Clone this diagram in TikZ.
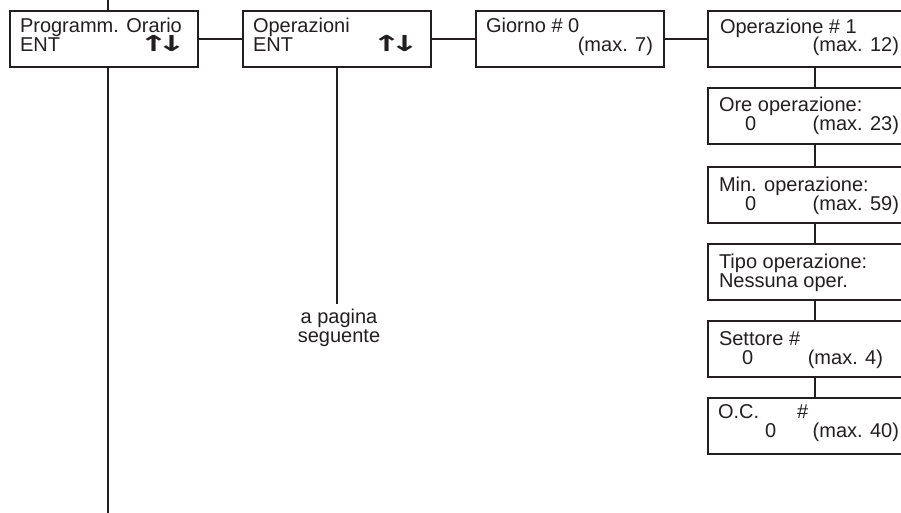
\documentclass[tikz,border=0pt]{standalone}
\usepackage{graphicx}
\usepackage{fontspec}
\setmainfont{Liberation Sans}
\newfontfamily\arrfont{DejaVu Sans Bold}
\definecolor{ink}{HTML}{231F20}
\newcommand{\uparr}{\scalebox{1.6}[1]{↑}}
\newcommand{\dnarr}{\scalebox{1.6}[1]{↓}}
\begin{document}
\begin{tikzpicture}[x=1pt,y=-1pt,
  every node/.style={inner sep=0pt, outer sep=0pt},
  box/.style={draw=ink, line width=2pt, minimum height=56pt, anchor=north west},
  lbox/.style={box, minimum width=188pt},
  rbox/.style={box, minimum width=200pt},
  txt/.style={text=ink, font=\fontsize{20}{18}\selectfont},
  arr/.style={text=ink, font=\arrfont\fontsize{22}{18}\selectfont, anchor=base},
  conn/.style={draw=ink, line width=2pt}]
\clip (0,0) rectangle (901,513);
\fill[white] (0,0) rectangle (901,513);
% boxes
\node[lbox] (b1) at (10,11) {};
\node[lbox] (b2) at (243,11) {};
\node[lbox] (b3) at (476,11) {};
\node[rbox] (b4) at (708,11) {};
\node[rbox] (b5) at (708,88) {};
\node[rbox] (b6) at (708,167) {};
\node[rbox] (b7) at (708,244) {};
\node[rbox] (b8) at (708,321) {};
\node[rbox] (b9) at (708,398) {};
% texts
\node[txt, anchor=base west] (t1a) at (20,33) {Programm. Orario};
\node[txt, anchor=base west] (t1b) at (20,52) {ENT};
\node[arr] (t1c) at (153.5,52) {\uparr};
\node[arr] (t1d) at (171.5,52) {\dnarr};
\node[txt, anchor=base west] (t2a) at (253,33) {Operazioni};
\node[txt, anchor=base west] (t2b) at (253,52) {ENT};
\node[arr] (t2c) at (386.5,52) {\uparr};
\node[arr] (t2d) at (404.5,52) {\dnarr};
\node[txt, anchor=base west] (t3a) at (486,33) {Giorno \# 0};
\node[txt, anchor=base east] (t3b) at (653,52) {(max. 7)};
\node[txt, anchor=base west] (t4a) at (720,34) {Operazione \# 1};
\node[txt, anchor=base east] (t4b) at (899,52) {(max. 12)};
\node[txt, anchor=base west] (t5a) at (719,112) {Ore operazione:};
\node[txt, anchor=base west] (t5b) at (745,131) {0};
\node[txt, anchor=base east] (t5c) at (899,131) {(max. 23)};
\node[txt, anchor=base west] (t6a) at (719,191) {Min. operazione:};
\node[txt, anchor=base west] (t6b) at (745,210) {0};
\node[txt, anchor=base east] (t6c) at (899,210) {(max. 59)};
\node[txt, anchor=base west] (t7a) at (719,268) {Tipo operazione:};
\node[txt, anchor=base west] (t7b) at (719,287) {Nessuna oper.};
\node[txt, anchor=base west] (t8a) at (719,345) {Settore \#};
\node[txt, anchor=base west] (t8b) at (742,364) {0};
\node[txt, anchor=base east] (t8c) at (883,364) {(max. 4)};
\node[txt, anchor=base west] (t9a) at (718,418) {O.C.};
\node[txt, anchor=base west] (t9b) at (797,418) {\#};
\node[txt, anchor=base west] (t9c) at (765,437) {0};
\node[txt, anchor=base east] (t9d) at (899,437) {(max. 40)};
\node[txt, align=center, anchor=base, font=\fontsize{20}{19.5}\selectfont] (ap) at (339,342.5) {a pagina\\seguente};
% connector helpers
\coordinate (vtop) at (108,0);
\coordinate (vbot) at (108,513);
\coordinate (apend) at (337,304);
\coordinate (vr) at (815,0);
% connectors
\draw[conn] (vtop) -- (b1.north -| vtop);
\draw[conn] (b1.south -| vtop) -- (vbot);
\draw[conn] (b1.east) -- (b2.west);
\draw[conn] (b2.east) -- (b3.west);
\draw[conn] (b3.east) -- (b4.west);
\draw[conn] (b2.south -| apend) -- (apend);
\draw[conn] (b4.south -| vr) -- (b5.north -| vr);
\draw[conn] (b5.south -| vr) -- (b6.north -| vr);
\draw[conn] (b6.south -| vr) -- (b7.north -| vr);
\draw[conn] (b7.south -| vr) -- (b8.north -| vr);
\draw[conn] (b8.south -| vr) -- (b9.north -| vr);
\end{tikzpicture}
\end{document}
